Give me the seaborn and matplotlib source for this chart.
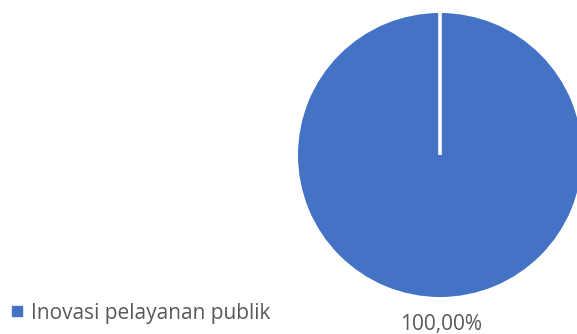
import matplotlib
matplotlib.use("Agg")
import matplotlib.pyplot as plt
from matplotlib.lines import Line2D
import seaborn as sns

categories = ["Inovasi pelayanan publik"]
values = [100.0]
value_labels = ["100,00%"]

sns.set_theme(style="white")
plt.rcParams["font.family"] = ["Open Sans", "DejaVu Sans"]

colors = ["#4472C4"]
text_color = "#595959"

W, H = 577, 334
fig = plt.figure(figsize=(W / 100, H / 100), dpi=100)
fig.patch.set_facecolor("white")

# pie axes: center (440, 155) px, radius 142 px
cx, cy, r = 440, 155, 142
ax = fig.add_axes([(cx - r) / W, (H - cy - r) / H, 2 * r / W, 2 * r / H])
wedges, _ = ax.pie(values, colors=colors, startangle=90, counterclock=False,
                   radius=1.0, wedgeprops=dict(linewidth=0))
ax.set_xlim(-1, 1)
ax.set_ylim(-1, 1)
ax.set_aspect("equal")
ax.axis("off")

# white seam where the single slice starts and ends (12 o'clock)
ax.plot([0, 0], [0, 1.0], color="white", lw=2.6, solid_capstyle="butt", zorder=5)

# value label under the pie
ax.text(0.01, -1.235, value_labels[0], ha="center", va="baseline",
        fontsize=15, color=text_color, transform=ax.transData, clip_on=False)

# legend, lower left
handles = [Line2D([], [], marker="s", linestyle="none", markersize=6.5,
                  markerfacecolor=colors[0], markeredgecolor=colors[0])]
fig.legend(handles, categories, loc="center left",
           bbox_to_anchor=(0.005, (H - 313) / H), frameon=False,
           fontsize=15, labelcolor=text_color, handletextpad=0.25,
           handlelength=0.8, borderaxespad=0.0, borderpad=0.3)

fig.savefig("out.png", dpi=100)
